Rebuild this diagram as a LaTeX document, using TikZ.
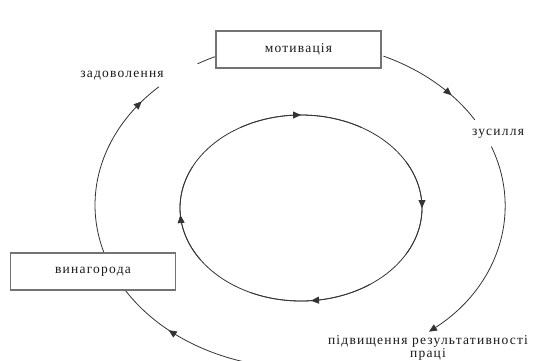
\documentclass[tikz,border=0pt]{standalone}
\usepackage{fontspec}
\setmainfont{Liberation Serif}
\usetikzlibrary{arrows.meta,decorations.markings}
\tikzset{
  box/.style={draw=black!55,line width=1.1pt,fill=white,minimum width=165pt,minimum height=37pt,inner sep=0pt},
  lbl/.style={text=black!90,font=\fontsize{13.5}{13}\selectfont\addfontfeature{LetterSpace=9},inner sep=0pt},
  cyc/.style={draw=black!80,line width=0.8pt},
  tip/.style={-{Triangle[length=8pt,width=7pt]}},
  midtip/.style={postaction={decorate},decoration={markings,mark=at position #1 with {\arrow{Triangle[length=8pt,width=7pt]}}}}
}
\begin{document}
\begin{tikzpicture}[x=1pt,y=-1pt]
\useasboundingbox[fill=white] (0,0) rectangle (537,360);
\coordinate (oc) at (300,205);
\coordinate (ic) at (301,208);
% inner ellipse
\draw[cyc] (ic) ellipse [x radius=121, y radius=93];
\foreach \t in {-90,0,85,176}{
  \draw[cyc,midtip=0.5] ([shift={(\t-30:121 and 93)}]ic) arc[start angle=\t-30,end angle=\t+30,x radius=121,y radius=93];
}
% outer arcs
\draw[cyc,midtip=0.7] ([shift={(-66:205 and 163)}]oc) arc[start angle=-66,end angle=-31.5,x radius=205,y radius=163];
\draw[cyc,tip] ([shift={(-21:205 and 163)}]oc) arc[start angle=-21,end angle=51,x radius=205,y radius=163];
\draw[cyc,midtip=0.71] ([shift={(85:205 and 163)}]oc) arc[start angle=85,end angle=150,x radius=205,y radius=163];
\draw[cyc,midtip=0.88] ([shift={(163:205 and 163)}]oc) arc[start angle=163,end angle=226.5,x radius=205,y radius=163];
\draw[cyc] ([shift={(240:205 and 163)}]oc) arc[start angle=240,end angle=255,x radius=205,y radius=163];
% boxes
\node[box] (mot) at (298.5,49.5) {};
\node[lbl] (motl) at (mot) {мотивація};
\node[box] (vin) at (93,271.5) {};
\node[lbl] (vinl) at (vin) {винагорода};
% labels
\node[lbl] (zad) at (122,76) {задоволення};
\node[lbl] (zus) at (498,134) {зусилля};
\node[lbl,align=center] (pid) at (428,348) {підвищення результативності\\праці};
\end{tikzpicture}
\end{document}
